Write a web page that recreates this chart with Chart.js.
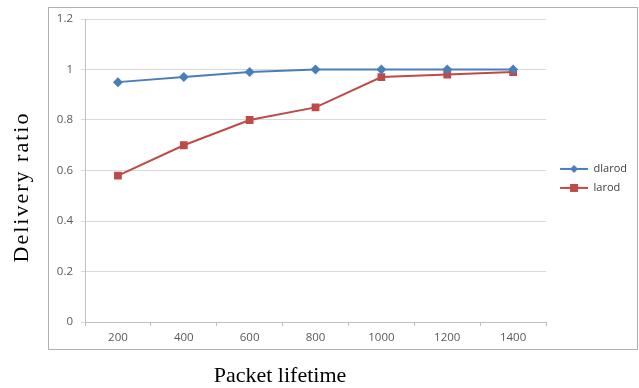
<!DOCTYPE html>
<html lang="en">
<head>
  <meta charset="UTF-8">
  <title>Delivery ratio vs packet lifetime</title>
  <script src="https://cdn.jsdelivr.net/npm/chart.js"></script>
  <style>
    html, body { margin: 0; padding: 0; background: #fff; }
    #wrap { width: 639px; height: 388px; position: relative; }
  </style>
</head>
<body>
  <div id="wrap"><canvas id="ratioChart" width="639" height="388"></canvas></div>

  <script>
    // data
    const lifetimes = ['200', '400', '600', '800', '1000', '1200', '1400'];
    const dlarod = [0.95, 0.97, 0.99, 1.0, 1.0, 1.0, 1.0];
    const larod = [0.58, 0.70, 0.80, 0.85, 0.97, 0.98, 0.99];
    const yTicks = [0, 0.2, 0.4, 0.6, 0.8, 1, 1.2];

    const blue = '#4a7ebb';
    const red = '#be4b48';

    // legend swatch: short line with the marker on it, excel style
    // (8px of empty space on the left to push the entry a bit to the right)
    function swatch(color, marker) {
      const c = document.createElement('canvas');
      c.width = 34; c.height = 10;
      const g = c.getContext('2d');
      g.strokeStyle = color; g.lineWidth = 2;
      g.beginPath(); g.moveTo(6, 5); g.lineTo(34, 5); g.stroke();
      g.fillStyle = color;
      if (marker === 'diamond') {
        g.beginPath(); g.moveTo(20, 1); g.lineTo(24, 5); g.lineTo(20, 9); g.lineTo(16, 5); g.closePath(); g.fill();
      } else {
        g.fillRect(16, 1, 8, 8);
      }
      return c;
    }

    // frame around the plot + axis titles (they sit outside the frame)
    const decor = {
      id: 'decor',
      beforeDraw(chart) {
        const ctx = chart.ctx;
        ctx.save();
        ctx.fillStyle = '#fff';
        ctx.fillRect(0, 0, chart.width, chart.height);
        ctx.strokeStyle = '#b0b0b0';
        ctx.lineWidth = 1;
        ctx.strokeRect(48.5, 7.5, 589, 342);
        ctx.restore();
      },
      afterDraw(chart) {
        const ctx = chart.ctx;
        ctx.save();
        ctx.fillStyle = '#000';
        ctx.font = '22px "Liberation Serif", serif';
        ctx.textAlign = 'center';
        ctx.textBaseline = 'alphabetic';
        ctx.fillText('Packet lifetime', 280, 382);
        ctx.translate(28, 187);
        ctx.rotate(-Math.PI / 2);
        ctx.font = '22px "Liberation Serif", serif';
        ctx.letterSpacing = '2px';
        ctx.fillText('Delivery ratio', 0, 0);
        ctx.restore();
      }
    };

    const ctx = document.getElementById('ratioChart').getContext('2d');
    const chart = new Chart(ctx, {
      type: 'line',
      data: {
        labels: lifetimes,
        datasets: [{
          label: 'dlarod',
          data: dlarod,
          borderColor: blue,
          backgroundColor: blue,
          borderWidth: 2,
          pointStyle: 'rectRot',
          pointRadius: 5,
          pointHoverRadius: 5,
          pointBorderWidth: 0,
          fill: false
        }, {
          label: 'larod',
          data: larod,
          borderColor: red,
          backgroundColor: red,
          borderWidth: 2,
          pointStyle: 'rect',
          pointRadius: 5.5,
          pointHoverRadius: 5.5,
          pointBorderWidth: 0,
          fill: false
        }]
      },
      options: {
        responsive: false,
        animation: false,
        layout: { padding: { left: 0, top: 19, right: 2, bottom: 0 } },
        plugins: {
          tooltip: { enabled: false },
          legend: {
            position: 'right',
            align: 'start',
            // blank title only used to push the entries down to mid-plot
            title: { display: true, text: ' ', font: { size: 2 }, padding: { top: 134, bottom: 0 } },
            labels: {
              usePointStyle: true,
              pointStyleWidth: 34,
              padding: 8,
              color: '#404040',
              font: { family: '"Open Sans", sans-serif', size: 11 },
              generateLabels(ch) {
                return [
                  { text: 'dlarod', pointStyle: swatch(blue, 'diamond'), fontColor: '#404040', datasetIndex: 0, lineWidth: 0 },
                  { text: 'larod', pointStyle: swatch(red, 'square'), fontColor: '#404040', datasetIndex: 1, lineWidth: 0 }
                ];
              }
            }
          }
        },
        scales: {
          x: {
            offset: true,
            grid: { display: true, drawOnChartArea: false, offset: true, color: '#bfbfbf', tickLength: 4 },
            border: { color: '#bfbfbf' },
            ticks: { color: '#595959', padding: 5, font: { family: '"Open Sans", sans-serif', size: 11.5 } },
            afterFit(scale) { scale.height = 66; }
          },
          y: {
            min: 0,
            max: 1.2,
            afterBuildTicks(scale) { scale.ticks = yTicks.map(v => ({ value: v })); },
            grid: { color: '#d9d9d9', tickLength: 4 },
            border: { color: '#bfbfbf' },
            ticks: {
              color: '#595959', padding: 8,
              font: { family: '"Open Sans", sans-serif', size: 11.5 },
              callback: v => String(v)
            },
            afterFit(scale) { scale.width = 85; }
          }
        }
      },
      plugins: [decor]
    });
  </script>
</body>
</html>
